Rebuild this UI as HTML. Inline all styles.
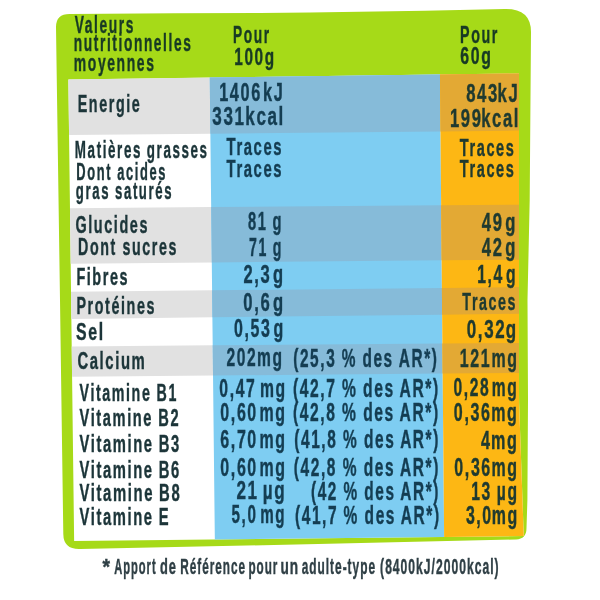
<!DOCTYPE html>
<html><head><meta charset="utf-8"><style>
html,body{margin:0;padding:0;width:600px;height:600px;overflow:hidden;background:#fff}
svg{display:block;filter:blur(0.4px)}
text{font-family:"Liberation Sans",sans-serif;white-space:pre}
</style></head><body>
<svg width="600" height="600" viewBox="0 0 600 600">
<rect width="600" height="600" fill="#ffffff"/>
<path d="M56,27 Q56,13.8 70,14 L175,13.3 L260,13 L310,12.5 L425,10.8 L505,9 Q531,8.5 531,32 L529.7,200 L527.5,300 L528,400 L527.4,500 L526.5,528 Q526.5,539 516,539.5 L318,544 L80,549 Q63.5,549.5 63.3,534 L60,300 Z" fill="#a6da18"/>
<polygon points="68.37,79.42 519.00,73.49 519.00,83.49 519.00,93.49 519.00,103.49 519.00,113.49 519.00,123.49 519.00,133.49 519.00,143.49 519.00,153.49 519.00,163.49 519.00,173.49 519.00,183.49 519.00,193.49 519.00,203.49 519.00,213.49 519.00,223.49 519.00,233.49 519.00,243.49 519.00,253.49 519.00,263.49 519.00,273.49 519.00,283.49 519.00,293.49 519.00,303.49 519.00,313.49 519.00,323.49 519.00,333.49 519.00,343.49 519.00,353.49 519.00,363.49 519.00,373.49 519.00,383.49 519.00,393.49 519.12,403.49 519.47,413.49 519.82,423.49 520.17,433.49 520.52,443.49 520.87,453.49 521.22,463.49 521.57,473.49 521.92,483.49 522.27,493.49 522.62,503.49 522.97,513.49 523.32,523.49 523.76,536.02 74.14,540.99 74.01,530.99 73.89,520.99 73.76,510.99 73.64,500.99 73.51,490.99 73.39,480.99 73.26,470.99 73.14,460.99 73.01,450.99 72.89,440.99 72.76,430.99 72.64,420.99 72.51,410.99 72.39,400.99 72.26,390.99 72.14,380.99 72.01,370.99 71.89,360.99 71.76,350.99 71.64,340.99 71.51,330.99 71.39,320.99 71.26,310.99 71.14,300.99 71.01,290.99 70.89,280.99 70.76,270.99 70.64,260.99 70.51,250.99 70.39,240.99 70.26,230.99 70.14,220.99 70.01,210.99 69.89,200.99 69.76,190.99 69.64,180.99 69.51,170.99 69.39,160.99 69.26,150.99 69.14,140.99 69.01,130.99 68.89,120.99 68.76,110.99 68.64,100.99 68.51,90.99" fill="#ffffff"/>
<polygon points="68.37,79.42 209.75,77.56 209.86,87.56 209.97,97.56 210.08,107.56 210.19,117.56 210.30,127.56 210.37,133.63 69.06,135.00 68.94,125.00 68.81,115.00 68.69,105.00 68.56,95.00 68.44,85.00" fill="#e1e1e1"/>
<polygon points="69.98,208.24 211.18,207.12 211.29,217.12 211.40,227.12 211.51,237.12 211.62,247.12 211.73,257.12 211.79,262.40 70.67,263.66 70.55,253.66 70.42,243.66 70.30,233.66 70.17,223.66 70.05,213.66" fill="#e1e1e1"/>
<polygon points="71.02,291.81 212.09,290.32 212.20,300.32 212.31,310.32 212.39,317.30 71.36,318.93 71.24,308.93 71.11,298.93" fill="#e1e1e1"/>
<polygon points="71.71,346.42 212.70,345.34 212.81,355.34 212.92,365.34 213.03,375.48 72.08,376.63 71.96,366.63 71.83,356.63" fill="#e1e1e1"/>
<polygon points="209.75,77.56 439.97,74.53 440.06,84.53 440.15,94.53 440.24,104.53 440.33,114.53 440.42,124.53 440.51,134.53 440.60,144.53 440.69,154.53 440.78,164.53 440.87,174.53 440.96,184.53 441.05,194.53 441.14,204.53 441.23,214.53 441.32,224.53 441.41,234.53 441.50,244.53 441.59,254.53 441.68,264.53 441.77,274.53 441.86,284.53 441.95,294.53 442.04,304.53 442.13,314.53 442.22,324.53 442.31,334.53 442.40,344.53 442.49,354.53 442.58,364.53 442.67,374.53 442.76,384.53 442.85,394.53 442.94,404.53 443.03,414.53 443.12,424.53 443.21,434.53 443.30,444.53 443.39,454.53 443.48,464.53 443.57,474.53 443.66,484.53 443.75,494.53 443.84,504.53 443.93,514.53 444.02,524.53 444.13,536.90 214.83,539.43 214.72,529.43 214.61,519.43 214.50,509.43 214.39,499.43 214.28,489.43 214.17,479.43 214.06,469.43 213.95,459.43 213.84,449.43 213.73,439.43 213.62,429.43 213.51,419.43 213.40,409.43 213.29,399.43 213.18,389.43 213.07,379.43 212.96,369.43 212.85,359.43 212.74,349.43 212.63,339.43 212.52,329.43 212.41,319.43 212.30,309.43 212.19,299.43 212.08,289.43 211.97,279.43 211.86,269.43 211.75,259.43 211.64,249.43 211.53,239.43 211.42,229.43 211.31,219.43 211.20,209.43 211.09,199.43 210.98,189.43 210.87,179.43 210.76,169.43 210.65,159.43 210.54,149.43 210.43,139.43 210.32,129.43 210.21,119.43 210.10,109.43 209.99,99.43 209.88,89.43" fill="#7ecdf2"/>
<polygon points="209.75,77.56 439.97,74.53 440.06,84.53 440.15,94.53 440.24,104.53 440.33,114.53 440.42,124.53 440.48,131.38 210.37,133.63 210.26,123.63 210.15,113.63 210.04,103.63 209.93,93.63 209.82,83.63" fill="#86bbd9"/>
<polygon points="211.18,207.12 441.15,205.31 441.24,215.31 441.33,225.31 441.42,235.31 441.51,245.31 441.60,255.31 441.64,260.34 211.79,262.40 211.68,252.40 211.57,242.40 211.46,232.40 211.35,222.40 211.24,212.40" fill="#86bbd9"/>
<polygon points="212.09,290.32 441.89,287.90 441.98,297.90 442.07,307.90 442.13,314.64 212.39,317.30 212.28,307.30 212.17,297.30" fill="#86bbd9"/>
<polygon points="212.70,345.34 442.39,343.59 442.48,353.59 442.57,363.59 442.66,373.60 213.03,375.48 212.92,365.48 212.81,355.48" fill="#86bbd9"/>
<polygon points="439.97,74.53 519.00,73.49 519.00,83.49 519.00,93.49 519.00,103.49 519.00,113.49 519.00,123.49 519.00,133.49 519.00,143.49 519.00,153.49 519.00,163.49 519.00,173.49 519.00,183.49 519.00,193.49 519.00,203.49 519.00,213.49 519.00,223.49 519.00,233.49 519.00,243.49 519.00,253.49 519.00,263.49 519.00,273.49 519.00,283.49 519.00,293.49 519.00,303.49 519.00,313.49 519.00,323.49 519.00,333.49 519.00,343.49 519.00,353.49 519.00,363.49 519.00,373.49 519.00,383.49 519.00,393.49 519.12,403.49 519.47,413.49 519.82,423.49 520.17,433.49 520.52,443.49 520.87,453.49 521.22,463.49 521.57,473.49 521.92,483.49 522.27,493.49 522.62,503.49 522.97,513.49 523.32,523.49 523.76,536.02 444.13,536.90 444.04,526.90 443.95,516.90 443.86,506.90 443.77,496.90 443.68,486.90 443.59,476.90 443.50,466.90 443.41,456.90 443.32,446.90 443.23,436.90 443.14,426.90 443.05,416.90 442.96,406.90 442.87,396.90 442.78,386.90 442.69,376.90 442.60,366.90 442.51,356.90 442.42,346.90 442.33,336.90 442.24,326.90 442.15,316.90 442.06,306.90 441.97,296.90 441.88,286.90 441.79,276.90 441.70,266.90 441.61,256.90 441.52,246.90 441.43,236.90 441.34,226.90 441.25,216.90 441.16,206.90 441.07,196.90 440.98,186.90 440.89,176.90 440.80,166.90 440.71,156.90 440.62,146.90 440.53,136.90 440.44,126.90 440.35,116.90 440.26,106.90 440.17,96.90 440.08,86.90" fill="#fdb714"/>
<polygon points="439.97,74.53 519.00,73.49 519.00,83.49 519.00,93.49 519.00,103.49 519.00,113.49 519.00,123.49 519.00,130.62 440.48,131.38 440.39,121.38 440.30,111.38 440.21,101.38 440.12,91.38 440.03,81.38" fill="#e3a934"/>
<polygon points="441.15,205.31 519.00,204.69 519.00,214.69 519.00,224.69 519.00,234.69 519.00,244.69 519.00,259.65 441.64,260.34 441.55,250.34 441.46,240.34 441.37,230.34 441.28,220.34 441.19,210.34" fill="#e3a934"/>
<polygon points="441.89,287.90 519.00,287.09 519.00,297.09 519.00,307.09 519.00,313.75 442.13,314.64 442.04,304.64 441.95,294.64" fill="#e3a934"/>
<polygon points="442.39,343.59 519.00,343.00 519.00,353.00 519.00,363.00 519.00,372.98 442.66,373.60 442.57,363.60 442.48,353.60" fill="#e3a934"/>
<text transform="translate(74.66,33.30) scale(0.5745,1)" font-size="24" fill="#183a24" font-weight="bold" stroke="#183a24" stroke-width="0.45" style="letter-spacing:2.785px">Valeurs</text>
<text transform="translate(73.84,51.40) scale(0.5721,1)" font-size="24" fill="#183a24" font-weight="bold" stroke="#183a24" stroke-width="0.45" style="letter-spacing:2.796px">nutritionnelles</text>
<text transform="translate(73.83,70.70) scale(0.5802,1)" font-size="24" fill="#183a24" font-weight="bold" stroke="#183a24" stroke-width="0.45" style="letter-spacing:2.758px">moyennes</text>
<text transform="translate(233.04,43.30) scale(0.5558,1)" font-size="24.7" fill="#183a24" font-weight="bold" stroke="#183a24" stroke-width="0.45" style="letter-spacing:2.879px">Pour</text>
<text transform="translate(234.28,64.80) scale(0.6214,1)" font-size="24.7" fill="#183a24" font-weight="bold" stroke="#183a24" stroke-width="0.45" style="letter-spacing:2.575px">100g</text>
<text transform="translate(460.10,43.30) scale(0.5778,1)" font-size="24.7" fill="#183a24" font-weight="bold" stroke="#183a24" stroke-width="0.45" style="letter-spacing:2.769px">Pour</text>
<text transform="translate(460.37,64.30) scale(0.6412,1)" font-size="24.7" fill="#183a24" font-weight="bold" stroke="#183a24" stroke-width="0.45" style="letter-spacing:2.495px">60g</text>
<text transform="translate(77.70,112.30) scale(0.5847,1)" font-size="24.5" fill="#1c3539" font-weight="bold" stroke="#1c3539" stroke-width="0.45" style="letter-spacing:2.736px">Energie</text>
<text transform="translate(219.22,101.00) scale(0.6508,1)" font-size="25" fill="#143d52" font-weight="bold" stroke="#143d52" stroke-width="0.45" style="letter-spacing:2.458px">1406</text>
<text transform="translate(263.02,101.00) scale(0.6508,1)" font-size="25" fill="#143d52" font-weight="bold" stroke="#143d52" stroke-width="0.45" style="letter-spacing:2.458px">kJ</text>
<text transform="translate(212.36,125.00) scale(0.6822,1)" font-size="25" fill="#143d52" font-weight="bold" stroke="#143d52" stroke-width="0.45" style="letter-spacing:2.345px">331</text>
<text transform="translate(245.34,125.00) scale(0.6822,1)" font-size="25" fill="#143d52" font-weight="bold" stroke="#143d52" stroke-width="0.45" style="letter-spacing:2.345px">kcal</text>
<text transform="translate(466.20,101.70) scale(0.6667,1)" font-size="25" fill="#1f3a30" font-weight="bold" stroke="#1f3a30" stroke-width="0.45" style="letter-spacing:2.400px">843</text>
<text transform="translate(497.60,101.70) scale(0.6667,1)" font-size="25" fill="#1f3a30" font-weight="bold" stroke="#1f3a30" stroke-width="0.45" style="letter-spacing:2.400px">kJ</text>
<text transform="translate(450.00,126.50) scale(0.6639,1)" font-size="25" fill="#1f3a30" font-weight="bold" stroke="#1f3a30" stroke-width="0.45" style="letter-spacing:2.410px">199</text>
<text transform="translate(481.30,126.50) scale(0.6639,1)" font-size="25" fill="#1f3a30" font-weight="bold" stroke="#1f3a30" stroke-width="0.45" style="letter-spacing:2.410px">kcal</text>
<text transform="translate(74.86,158.30) scale(0.5464,1)" font-size="24.5" fill="#1c3539" font-weight="bold" stroke="#1c3539" stroke-width="0.45" style="letter-spacing:2.929px">Matières</text>
<text transform="translate(146.84,158.30) scale(0.5464,1)" font-size="24.5" fill="#1c3539" font-weight="bold" stroke="#1c3539" stroke-width="0.45" style="letter-spacing:2.929px">grasses</text>
<text transform="translate(76.30,179.90) scale(0.5258,1)" font-size="24.5" fill="#1c3539" font-weight="bold" stroke="#1c3539" stroke-width="0.45" style="letter-spacing:3.043px">Dont</text>
<text transform="translate(117.32,179.90) scale(0.5258,1)" font-size="24.5" fill="#1c3539" font-weight="bold" stroke="#1c3539" stroke-width="0.45" style="letter-spacing:3.043px">acides</text>
<text transform="translate(75.87,199.20) scale(0.5376,1)" font-size="24.5" fill="#1c3539" font-weight="bold" stroke="#1c3539" stroke-width="0.45" style="letter-spacing:2.976px">gras</text>
<text transform="translate(115.04,199.20) scale(0.5376,1)" font-size="24.5" fill="#1c3539" font-weight="bold" stroke="#1c3539" stroke-width="0.45" style="letter-spacing:2.976px">saturés</text>
<text transform="translate(226.55,154.70) scale(0.6057,1)" font-size="24.5" fill="#143d52" font-weight="bold" stroke="#143d52" stroke-width="0.45" style="letter-spacing:2.642px">Traces</text>
<text transform="translate(226.55,176.50) scale(0.6057,1)" font-size="24.5" fill="#143d52" font-weight="bold" stroke="#143d52" stroke-width="0.45" style="letter-spacing:2.642px">Traces</text>
<text transform="translate(459.85,155.80) scale(0.5926,1)" font-size="24.5" fill="#1f3a30" font-weight="bold" stroke="#1f3a30" stroke-width="0.45" style="letter-spacing:2.700px">Traces</text>
<text transform="translate(459.85,176.70) scale(0.5926,1)" font-size="24.5" fill="#1f3a30" font-weight="bold" stroke="#1f3a30" stroke-width="0.45" style="letter-spacing:2.700px">Traces</text>
<text transform="translate(75.42,233.00) scale(0.5881,1)" font-size="24.5" fill="#1c3539" font-weight="bold" stroke="#1c3539" stroke-width="0.45" style="letter-spacing:2.720px">Glucides</text>
<text transform="translate(78.00,255.00) scale(0.5824,1)" font-size="24.5" fill="#1c3539" font-weight="bold" stroke="#1c3539" stroke-width="0.45" style="letter-spacing:2.747px">Dont</text>
<text transform="translate(122.48,255.00) scale(0.5824,1)" font-size="24.5" fill="#1c3539" font-weight="bold" stroke="#1c3539" stroke-width="0.45" style="letter-spacing:2.747px">sucres</text>
<text transform="translate(248.06,230.00) scale(0.5872,1)" font-size="25" fill="#143d52" font-weight="bold" stroke="#143d52" stroke-width="0.45" style="letter-spacing:2.725px">81</text>
<text transform="translate(272.57,230.00) scale(0.5872,1)" font-size="25" fill="#143d52" font-weight="bold" stroke="#143d52" stroke-width="0.45" style="letter-spacing:2.725px">g</text>
<text transform="translate(248.93,256.00) scale(0.5652,1)" font-size="25" fill="#143d52" font-weight="bold" stroke="#143d52" stroke-width="0.45" style="letter-spacing:2.831px">71</text>
<text transform="translate(272.87,256.00) scale(0.5652,1)" font-size="25" fill="#143d52" font-weight="bold" stroke="#143d52" stroke-width="0.45" style="letter-spacing:2.831px">g</text>
<text transform="translate(481.83,230.70) scale(0.6650,1)" font-size="25" fill="#1f3a30" font-weight="bold" stroke="#1f3a30" stroke-width="0.45" style="letter-spacing:2.406px">49</text>
<text transform="translate(505.22,230.70) scale(0.6650,1)" font-size="25" fill="#1f3a30" font-weight="bold" stroke="#1f3a30" stroke-width="0.45" style="letter-spacing:2.406px">g</text>
<text transform="translate(481.83,256.20) scale(0.6650,1)" font-size="25" fill="#1f3a30" font-weight="bold" stroke="#1f3a30" stroke-width="0.45" style="letter-spacing:2.406px">42</text>
<text transform="translate(505.22,256.20) scale(0.6650,1)" font-size="25" fill="#1f3a30" font-weight="bold" stroke="#1f3a30" stroke-width="0.45" style="letter-spacing:2.406px">g</text>
<text transform="translate(76.39,285.00) scale(0.5875,1)" font-size="24.5" fill="#1c3539" font-weight="bold" stroke="#1c3539" stroke-width="0.45" style="letter-spacing:2.723px">Fibres</text>
<text transform="translate(243.50,283.30) scale(0.6615,1)" font-size="25" fill="#143d52" font-weight="bold" stroke="#143d52" stroke-width="0.45" style="letter-spacing:2.419px">2,3</text>
<text transform="translate(273.07,283.30) scale(0.6615,1)" font-size="25" fill="#143d52" font-weight="bold" stroke="#143d52" stroke-width="0.45" style="letter-spacing:2.419px">g</text>
<text transform="translate(477.26,282.50) scale(0.6286,1)" font-size="25" fill="#1f3a30" font-weight="bold" stroke="#1f3a30" stroke-width="0.45" style="letter-spacing:2.545px">1,4</text>
<text transform="translate(506.01,282.50) scale(0.6286,1)" font-size="25" fill="#1f3a30" font-weight="bold" stroke="#1f3a30" stroke-width="0.45" style="letter-spacing:2.545px">g</text>
<text transform="translate(76.40,314.00) scale(0.5852,1)" font-size="24.5" fill="#1c3539" font-weight="bold" stroke="#1c3539" stroke-width="0.45" style="letter-spacing:2.734px">Protéines</text>
<text transform="translate(243.33,310.70) scale(0.6652,1)" font-size="25" fill="#143d52" font-weight="bold" stroke="#143d52" stroke-width="0.45" style="letter-spacing:2.405px">0,6</text>
<text transform="translate(273.02,310.70) scale(0.6652,1)" font-size="25" fill="#143d52" font-weight="bold" stroke="#143d52" stroke-width="0.45" style="letter-spacing:2.405px">g</text>
<text transform="translate(462.36,310.00) scale(0.5822,1)" font-size="24.5" fill="#1f3a30" font-weight="bold" stroke="#1f3a30" stroke-width="0.45" style="letter-spacing:2.748px">Traces</text>
<text transform="translate(76.12,340.00) scale(0.6472,1)" font-size="24.5" fill="#1c3539" font-weight="bold" stroke="#1c3539" stroke-width="0.45" style="letter-spacing:2.472px">Sel</text>
<text transform="translate(234.06,336.70) scale(0.6380,1)" font-size="25" fill="#143d52" font-weight="bold" stroke="#143d52" stroke-width="0.45" style="letter-spacing:2.508px">0,53</text>
<text transform="translate(273.39,336.70) scale(0.6380,1)" font-size="25" fill="#143d52" font-weight="bold" stroke="#143d52" stroke-width="0.45" style="letter-spacing:2.508px">g</text>
<text transform="translate(466.82,337.50) scale(0.6785,1)" font-size="25" fill="#1f3a30" font-weight="bold" stroke="#1f3a30" stroke-width="0.45" style="letter-spacing:2.358px">0,32</text>
<text transform="translate(505.84,337.50) scale(0.6785,1)" font-size="25" fill="#1f3a30" font-weight="bold" stroke="#1f3a30" stroke-width="0.45" style="letter-spacing:2.358px">g</text>
<text transform="translate(77.40,369.00) scale(0.6074,1)" font-size="24.5" fill="#1c3539" font-weight="bold" stroke="#1c3539" stroke-width="0.45" style="letter-spacing:2.634px">Calcium</text>
<text transform="translate(226.53,366.00) scale(0.6243,1)" font-size="25" fill="#143d52" font-weight="bold" stroke="#143d52" stroke-width="0.45" style="letter-spacing:2.563px">202</text>
<text transform="translate(257.08,366.00) scale(0.6243,1)" font-size="25" fill="#143d52" font-weight="bold" stroke="#143d52" stroke-width="0.45" style="letter-spacing:2.563px">mg</text>
<text transform="translate(293.23,367.00) scale(0.6160,1)" font-size="25" fill="#143d52" font-weight="bold" stroke="#143d52" stroke-width="0.45" style="letter-spacing:2.598px">(25,3</text>
<text transform="translate(341.82,367.00) scale(0.6160,1)" font-size="25" fill="#143d52" font-weight="bold" stroke="#143d52" stroke-width="0.45" style="letter-spacing:2.598px">%</text>
<text transform="translate(362.44,367.00) scale(0.6160,1)" font-size="25" fill="#143d52" font-weight="bold" stroke="#143d52" stroke-width="0.45" style="letter-spacing:2.598px">des</text>
<text transform="translate(398.71,367.00) scale(0.6160,1)" font-size="25" fill="#143d52" font-weight="bold" stroke="#143d52" stroke-width="0.45" style="letter-spacing:2.598px">AR*)</text>
<text transform="translate(459.84,366.70) scale(0.6381,1)" font-size="25" fill="#1f3a30" font-weight="bold" stroke="#1f3a30" stroke-width="0.45" style="letter-spacing:2.507px">121</text>
<text transform="translate(491.39,366.70) scale(0.6381,1)" font-size="25" fill="#1f3a30" font-weight="bold" stroke="#1f3a30" stroke-width="0.45" style="letter-spacing:2.507px">mg</text>
<text transform="translate(79.56,401.00) scale(0.5813,1)" font-size="24.5" fill="#1c3539" font-weight="bold" stroke="#1c3539" stroke-width="0.45" style="letter-spacing:2.752px">Vitamine</text>
<text transform="translate(156.60,401.00) scale(0.5813,1)" font-size="24.5" fill="#1c3539" font-weight="bold" stroke="#1c3539" stroke-width="0.45" style="letter-spacing:2.752px">B1</text>
<text transform="translate(79.55,426.30) scale(0.5979,1)" font-size="24.5" fill="#1c3539" font-weight="bold" stroke="#1c3539" stroke-width="0.45" style="letter-spacing:2.676px">Vitamine</text>
<text transform="translate(158.24,426.30) scale(0.5979,1)" font-size="24.5" fill="#1c3539" font-weight="bold" stroke="#1c3539" stroke-width="0.45" style="letter-spacing:2.676px">B2</text>
<text transform="translate(79.55,452.30) scale(0.6033,1)" font-size="24.5" fill="#1c3539" font-weight="bold" stroke="#1c3539" stroke-width="0.45" style="letter-spacing:2.652px">Vitamine</text>
<text transform="translate(158.77,452.30) scale(0.6033,1)" font-size="24.5" fill="#1c3539" font-weight="bold" stroke="#1c3539" stroke-width="0.45" style="letter-spacing:2.652px">B3</text>
<text transform="translate(79.55,477.70) scale(0.6033,1)" font-size="24.5" fill="#1c3539" font-weight="bold" stroke="#1c3539" stroke-width="0.45" style="letter-spacing:2.652px">Vitamine</text>
<text transform="translate(158.77,477.70) scale(0.6033,1)" font-size="24.5" fill="#1c3539" font-weight="bold" stroke="#1c3539" stroke-width="0.45" style="letter-spacing:2.652px">B6</text>
<text transform="translate(79.55,501.00) scale(0.6068,1)" font-size="24.5" fill="#1c3539" font-weight="bold" stroke="#1c3539" stroke-width="0.45" style="letter-spacing:2.637px">Vitamine</text>
<text transform="translate(159.12,501.00) scale(0.6068,1)" font-size="24.5" fill="#1c3539" font-weight="bold" stroke="#1c3539" stroke-width="0.45" style="letter-spacing:2.637px">B8</text>
<text transform="translate(79.55,525.00) scale(0.6026,1)" font-size="24.5" fill="#1c3539" font-weight="bold" stroke="#1c3539" stroke-width="0.45" style="letter-spacing:2.655px">Vitamine</text>
<text transform="translate(158.70,525.00) scale(0.6026,1)" font-size="24.5" fill="#1c3539" font-weight="bold" stroke="#1c3539" stroke-width="0.45" style="letter-spacing:2.655px">E</text>
<text transform="translate(219.37,397.00) scale(0.6286,1)" font-size="25" fill="#143d52" font-weight="bold" stroke="#143d52" stroke-width="0.45" style="letter-spacing:2.545px">0,47</text>
<text transform="translate(259.93,397.00) scale(0.6286,1)" font-size="25" fill="#143d52" font-weight="bold" stroke="#143d52" stroke-width="0.45" style="letter-spacing:2.545px">mg</text>
<text transform="translate(220.36,421.00) scale(0.6390,1)" font-size="25" fill="#143d52" font-weight="bold" stroke="#143d52" stroke-width="0.45" style="letter-spacing:2.504px">0,60</text>
<text transform="translate(259.56,421.00) scale(0.6390,1)" font-size="25" fill="#143d52" font-weight="bold" stroke="#143d52" stroke-width="0.45" style="letter-spacing:2.504px">mg</text>
<text transform="translate(220.36,447.70) scale(0.6390,1)" font-size="25" fill="#143d52" font-weight="bold" stroke="#143d52" stroke-width="0.45" style="letter-spacing:2.504px">6,70</text>
<text transform="translate(259.56,447.70) scale(0.6390,1)" font-size="25" fill="#143d52" font-weight="bold" stroke="#143d52" stroke-width="0.45" style="letter-spacing:2.504px">mg</text>
<text transform="translate(220.36,476.30) scale(0.6390,1)" font-size="25" fill="#143d52" font-weight="bold" stroke="#143d52" stroke-width="0.45" style="letter-spacing:2.504px">0,60</text>
<text transform="translate(259.56,476.30) scale(0.6390,1)" font-size="25" fill="#143d52" font-weight="bold" stroke="#143d52" stroke-width="0.45" style="letter-spacing:2.504px">mg</text>
<text transform="translate(236.49,499.00) scale(0.6849,1)" font-size="25" fill="#143d52" font-weight="bold" stroke="#143d52" stroke-width="0.45" style="letter-spacing:2.336px">21</text>
<text transform="translate(262.72,499.00) scale(0.6849,1)" font-size="25" fill="#143d52" font-weight="bold" stroke="#143d52" stroke-width="0.45" style="letter-spacing:2.336px">µg</text>
<text transform="translate(231.54,523.00) scale(0.6075,1)" font-size="25" fill="#143d52" font-weight="bold" stroke="#143d52" stroke-width="0.45" style="letter-spacing:2.634px">5,0</text>
<text transform="translate(260.18,523.00) scale(0.6075,1)" font-size="25" fill="#143d52" font-weight="bold" stroke="#143d52" stroke-width="0.45" style="letter-spacing:2.634px">mg</text>
<text transform="translate(292.92,396.50) scale(0.6258,1)" font-size="25" fill="#143d52" font-weight="bold" stroke="#143d52" stroke-width="0.45" style="letter-spacing:2.557px">(42,7</text>
<text transform="translate(341.89,396.50) scale(0.6258,1)" font-size="25" fill="#143d52" font-weight="bold" stroke="#143d52" stroke-width="0.45" style="letter-spacing:2.557px">%</text>
<text transform="translate(363.02,396.50) scale(0.6258,1)" font-size="25" fill="#143d52" font-weight="bold" stroke="#143d52" stroke-width="0.45" style="letter-spacing:2.557px">des</text>
<text transform="translate(399.49,396.50) scale(0.6258,1)" font-size="25" fill="#143d52" font-weight="bold" stroke="#143d52" stroke-width="0.45" style="letter-spacing:2.557px">AR*)</text>
<text transform="translate(292.92,421.10) scale(0.6239,1)" font-size="25" fill="#143d52" font-weight="bold" stroke="#143d52" stroke-width="0.45" style="letter-spacing:2.564px">(42,8</text>
<text transform="translate(342.10,421.10) scale(0.6239,1)" font-size="25" fill="#143d52" font-weight="bold" stroke="#143d52" stroke-width="0.45" style="letter-spacing:2.564px">%</text>
<text transform="translate(363.19,421.10) scale(0.6239,1)" font-size="25" fill="#143d52" font-weight="bold" stroke="#143d52" stroke-width="0.45" style="letter-spacing:2.564px">des</text>
<text transform="translate(399.59,421.10) scale(0.6239,1)" font-size="25" fill="#143d52" font-weight="bold" stroke="#143d52" stroke-width="0.45" style="letter-spacing:2.564px">AR*)</text>
<text transform="translate(294.23,448.00) scale(0.6174,1)" font-size="25" fill="#143d52" font-weight="bold" stroke="#143d52" stroke-width="0.45" style="letter-spacing:2.591px">(41,8</text>
<text transform="translate(343.05,448.00) scale(0.6174,1)" font-size="25" fill="#143d52" font-weight="bold" stroke="#143d52" stroke-width="0.45" style="letter-spacing:2.591px">%</text>
<text transform="translate(364.01,448.00) scale(0.6174,1)" font-size="25" fill="#143d52" font-weight="bold" stroke="#143d52" stroke-width="0.45" style="letter-spacing:2.591px">des</text>
<text transform="translate(400.13,448.00) scale(0.6174,1)" font-size="25" fill="#143d52" font-weight="bold" stroke="#143d52" stroke-width="0.45" style="letter-spacing:2.591px">AR*)</text>
<text transform="translate(293.72,476.20) scale(0.6204,1)" font-size="25" fill="#143d52" font-weight="bold" stroke="#143d52" stroke-width="0.45" style="letter-spacing:2.579px">(42,8</text>
<text transform="translate(342.71,476.20) scale(0.6204,1)" font-size="25" fill="#143d52" font-weight="bold" stroke="#143d52" stroke-width="0.45" style="letter-spacing:2.579px">%</text>
<text transform="translate(363.73,476.20) scale(0.6204,1)" font-size="25" fill="#143d52" font-weight="bold" stroke="#143d52" stroke-width="0.45" style="letter-spacing:2.579px">des</text>
<text transform="translate(399.97,476.20) scale(0.6204,1)" font-size="25" fill="#143d52" font-weight="bold" stroke="#143d52" stroke-width="0.45" style="letter-spacing:2.579px">AR*)</text>
<text transform="translate(310.93,499.60) scale(0.6138,1)" font-size="25" fill="#143d52" font-weight="bold" stroke="#143d52" stroke-width="0.45" style="letter-spacing:2.607px">(42</text>
<text transform="translate(343.46,499.60) scale(0.6138,1)" font-size="25" fill="#143d52" font-weight="bold" stroke="#143d52" stroke-width="0.45" style="letter-spacing:2.607px">%</text>
<text transform="translate(364.35,499.60) scale(0.6138,1)" font-size="25" fill="#143d52" font-weight="bold" stroke="#143d52" stroke-width="0.45" style="letter-spacing:2.607px">des</text>
<text transform="translate(400.32,499.60) scale(0.6138,1)" font-size="25" fill="#143d52" font-weight="bold" stroke="#143d52" stroke-width="0.45" style="letter-spacing:2.607px">AR*)</text>
<text transform="translate(294.93,523.60) scale(0.6199,1)" font-size="25" fill="#143d52" font-weight="bold" stroke="#143d52" stroke-width="0.45" style="letter-spacing:2.581px">(41,7</text>
<text transform="translate(343.57,523.60) scale(0.6199,1)" font-size="25" fill="#143d52" font-weight="bold" stroke="#143d52" stroke-width="0.45" style="letter-spacing:2.581px">%</text>
<text transform="translate(364.58,523.60) scale(0.6199,1)" font-size="25" fill="#143d52" font-weight="bold" stroke="#143d52" stroke-width="0.45" style="letter-spacing:2.581px">des</text>
<text transform="translate(400.80,523.60) scale(0.6199,1)" font-size="25" fill="#143d52" font-weight="bold" stroke="#143d52" stroke-width="0.45" style="letter-spacing:2.581px">AR*)</text>
<text transform="translate(453.58,396.30) scale(0.6247,1)" font-size="25" fill="#1f3a30" font-weight="bold" stroke="#1f3a30" stroke-width="0.45" style="letter-spacing:2.561px">0,28</text>
<text transform="translate(491.77,396.30) scale(0.6247,1)" font-size="25" fill="#1f3a30" font-weight="bold" stroke="#1f3a30" stroke-width="0.45" style="letter-spacing:2.561px">mg</text>
<text transform="translate(453.86,421.30) scale(0.6415,1)" font-size="25" fill="#1f3a30" font-weight="bold" stroke="#1f3a30" stroke-width="0.45" style="letter-spacing:2.494px">0,36</text>
<text transform="translate(491.17,421.30) scale(0.6415,1)" font-size="25" fill="#1f3a30" font-weight="bold" stroke="#1f3a30" stroke-width="0.45" style="letter-spacing:2.494px">mg</text>
<text transform="translate(481.04,449.20) scale(0.6463,1)" font-size="25" fill="#1f3a30" font-weight="bold" stroke="#1f3a30" stroke-width="0.45" style="letter-spacing:2.476px">4</text>
<text transform="translate(490.99,449.20) scale(0.6463,1)" font-size="25" fill="#1f3a30" font-weight="bold" stroke="#1f3a30" stroke-width="0.45" style="letter-spacing:2.476px">mg</text>
<text transform="translate(454.36,476.00) scale(0.6390,1)" font-size="25" fill="#1f3a30" font-weight="bold" stroke="#1f3a30" stroke-width="0.45" style="letter-spacing:2.504px">0,36</text>
<text transform="translate(491.56,476.00) scale(0.6390,1)" font-size="25" fill="#1f3a30" font-weight="bold" stroke="#1f3a30" stroke-width="0.45" style="letter-spacing:2.504px">mg</text>
<text transform="translate(471.26,500.30) scale(0.6269,1)" font-size="25" fill="#1f3a30" font-weight="bold" stroke="#1f3a30" stroke-width="0.45" style="letter-spacing:2.552px">13</text>
<text transform="translate(496.85,500.30) scale(0.6269,1)" font-size="25" fill="#1f3a30" font-weight="bold" stroke="#1f3a30" stroke-width="0.45" style="letter-spacing:2.552px">µg</text>
<text transform="translate(465.88,524.30) scale(0.6364,1)" font-size="25" fill="#1f3a30" font-weight="bold" stroke="#1f3a30" stroke-width="0.45" style="letter-spacing:2.514px">3,0</text>
<text transform="translate(491.65,524.30) scale(0.6364,1)" font-size="25" fill="#1f3a30" font-weight="bold" stroke="#1f3a30" stroke-width="0.45" style="letter-spacing:2.514px">mg</text>
<text transform="translate(102.50,574.30) scale(0.8821,1)" font-size="21.8" fill="#2f3f45" font-weight="bold" stroke="#2f3f45" stroke-width="0.45" style="letter-spacing:1.134px">*</text>
<text transform="translate(114.17,574.30) scale(0.5113,1)" font-size="21.8" fill="#2f3f45" font-weight="bold" stroke="#2f3f45" stroke-width="0.45" style="letter-spacing:1.956px">Apport</text>
<text transform="translate(159.99,574.30) scale(0.5892,1)" font-size="21.8" fill="#2f3f45" font-weight="bold" stroke="#2f3f45" stroke-width="0.45" style="letter-spacing:1.697px">de</text>
<text transform="translate(180.18,574.30) scale(0.5402,1)" font-size="21.8" fill="#2f3f45" font-weight="bold" stroke="#2f3f45" stroke-width="0.45" style="letter-spacing:1.851px">Référence</text>
<text transform="translate(248.48,574.30) scale(0.5359,1)" font-size="21.8" fill="#2f3f45" font-weight="bold" stroke="#2f3f45" stroke-width="0.45" style="letter-spacing:1.866px">pour</text>
<text transform="translate(280.48,574.30) scale(0.6255,1)" font-size="21.8" fill="#2f3f45" font-weight="bold" stroke="#2f3f45" stroke-width="0.45" style="letter-spacing:1.599px">un</text>
<text transform="translate(301.64,574.30) scale(0.5458,1)" font-size="21.8" fill="#2f3f45" font-weight="bold" stroke="#2f3f45" stroke-width="0.45" style="letter-spacing:1.832px">adulte-type</text>
<text transform="translate(380.09,574.30) scale(0.5565,1)" font-size="21.8" fill="#2f3f45" font-weight="bold" stroke="#2f3f45" stroke-width="0.45" style="letter-spacing:1.797px">(8400kJ/2000kcal)</text>
</svg>
</body></html>
